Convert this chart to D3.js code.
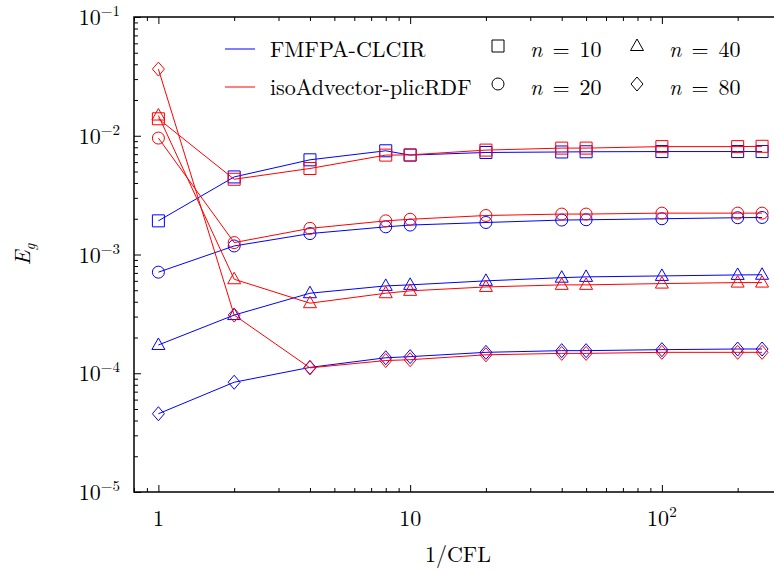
<!DOCTYPE html>
<html>
<head>
<meta charset="utf-8">
<script src="https://cdn.jsdelivr.net/npm/d3@7"></script>
<style>
  body { margin: 0; background: #fff; }
  svg { display: block; font-family: "Latin Modern Roman", "CMU Serif", "Liberation Serif", "DejaVu Serif", serif; }
</style>
</head>
<body>
<svg id="chart"></svg>
<script>
// 1/CFL values
var cflInv = [1, 2, 4, 8, 10, 20, 40, 50, 100, 200, 250];

// FMFPA-CLCIR
var fmfpaN10 = [1.92e-3, 4.5e-3, 6.27e-3, 7.47e-3, 6.87e-3, 7.23e-3, 7.3e-3, 7.33e-3, 7.36e-3, 7.36e-3, 7.36e-3];
var fmfpaN20 = [7.1e-4, 1.18e-3, 1.5e-3, 1.71e-3, 1.77e-3, 1.86e-3, 1.95e-3, 1.96e-3, 2.0e-3, 2.04e-3, 2.05e-3];
var fmfpaN40 = [1.73e-4, 3.09e-4, 4.72e-4, 5.44e-4, 5.55e-4, 6.0e-4, 6.38e-4, 6.48e-4, 6.6e-4, 6.73e-4, 6.75e-4];
var fmfpaN80 = [4.56e-5, 8.4e-5, 1.12e-4, 1.35e-4, 1.38e-4, 1.5e-4, 1.55e-4, 1.55e-4, 1.58e-4, 1.6e-4, 1.6e-4];

// isoAdvector-plicRDF
var isoN10 = [1.39e-2, 4.3e-3, 5.3e-3, 6.87e-3, 6.9e-3, 7.57e-3, 7.87e-3, 7.87e-3, 8.1e-3, 8.1e-3, 8.15e-3];
var isoN20 = [9.56e-3, 1.26e-3, 1.66e-3, 1.92e-3, 1.98e-3, 2.13e-3, 2.19e-3, 2.19e-3, 2.23e-3, 2.23e-3, 2.23e-3];
var isoN40 = [1.48e-2, 6.19e-4, 3.89e-4, 4.72e-4, 4.94e-4, 5.33e-4, 5.55e-4, 5.55e-4, 5.69e-4, 5.8e-4, 5.8e-4];
var isoN80 = [3.64e-2, 3.09e-4, 1.11e-4, 1.28e-4, 1.3e-4, 1.43e-4, 1.47e-4, 1.47e-4, 1.5e-4, 1.5e-4, 1.5e-4];

var xMajor = [1, 10, 100];
var xMajorLabels = [["1", ""], ["10", ""], ["10", "2"]];
var yMajor = [1e-5, 1e-4, 1e-3, 1e-2, 1e-1];
var yMajorLabels = [["10", "\u22125"], ["10", "\u22124"], ["10", "\u22123"], ["10", "\u22122"], ["10", "\u22121"]];

var methods = ["FMFPA-CLCIR", "isoAdvector-plicRDF"];
var methodColors = ["#0000ff", "#ff0000"];
var nLabels = ["10", "20", "40", "80"];
var markerKinds = ["square", "circle", "triangle", "diamond"];

var series = [
  { method: 0, n: 0, values: fmfpaN10 }, { method: 0, n: 1, values: fmfpaN20 },
  { method: 0, n: 2, values: fmfpaN40 }, { method: 0, n: 3, values: fmfpaN80 },
  { method: 1, n: 0, values: isoN10 }, { method: 1, n: 1, values: isoN20 },
  { method: 1, n: 2, values: isoN40 }, { method: 1, n: 3, values: isoN80 }
];

var width = 774, height = 571;
var plotL = 134, plotR = 782, plotT = 17, plotB = 492;

var svg = d3.select('#chart').attr('width', width).attr('height', height);

var x = d3.scaleLog().domain([0.8, 300]).range([plotL, plotR]);
var y = d3.scaleLog().domain([1e-5, 1e-1]).range([plotB, plotT]);

function minors(lo, hi) {
  var out = [];
  for (var e = Math.floor(Math.log10(lo)); e <= Math.ceil(Math.log10(hi)); e++) {
    for (var k = 2; k <= 9; k++) {
      var v = k * Math.pow(10, e);
      if (v >= lo && v <= hi) out.push(v);
    }
  }
  return out;
}
var xMinor = minors(0.8, 300);
var yMinor = minors(1e-5, 1e-1);

var MAJ = 7, MIN = 4;

function styleAxis(g) {
  g.select('.domain').remove();
  g.selectAll('line').attr('stroke', '#000').attr('stroke-width', 1);
}

// ticks, inward on all four sides
svg.append('g').attr('transform', 'translate(0,' + plotB + ')')
  .call(d3.axisBottom(x).tickValues(xMajor).tickSize(-MAJ).tickFormat('')).call(styleAxis);
svg.append('g').attr('transform', 'translate(0,' + plotB + ')')
  .call(d3.axisBottom(x).tickValues(xMinor).tickSize(-MIN).tickFormat('')).call(styleAxis);
svg.append('g').attr('transform', 'translate(0,' + plotT + ')')
  .call(d3.axisTop(x).tickValues(xMajor).tickSize(-MAJ).tickFormat('')).call(styleAxis);
svg.append('g').attr('transform', 'translate(0,' + plotT + ')')
  .call(d3.axisTop(x).tickValues(xMinor).tickSize(-MIN).tickFormat('')).call(styleAxis);
svg.append('g').attr('transform', 'translate(' + plotL + ',0)')
  .call(d3.axisLeft(y).tickValues(yMajor).tickSize(-MAJ).tickFormat('')).call(styleAxis);
svg.append('g').attr('transform', 'translate(' + plotL + ',0)')
  .call(d3.axisLeft(y).tickValues(yMinor).tickSize(-MIN).tickFormat('')).call(styleAxis);
svg.append('g').attr('transform', 'translate(' + plotR + ',0)')
  .call(d3.axisRight(y).tickValues(yMajor).tickSize(-MAJ).tickFormat('')).call(styleAxis);
svg.append('g').attr('transform', 'translate(' + plotR + ',0)')
  .call(d3.axisRight(y).tickValues(yMinor).tickSize(-MIN).tickFormat('')).call(styleAxis);

// frame
svg.append('rect')
  .attr('x', plotL).attr('y', plotT)
  .attr('width', plotR - plotL).attr('height', plotB - plotT)
  .attr('fill', 'none').attr('stroke', '#000').attr('stroke-width', 1.5);

// tick labels
var xl = svg.append('g').attr('font-size', 22).attr('fill', '#000');
xMajor.forEach(function(v, i) {
  var t = xl.append('text').attr('x', x(v)).attr('y', plotB + 34).attr('text-anchor', 'middle');
  t.append('tspan').text(xMajorLabels[i][0]);
  if (xMajorLabels[i][1]) t.append('tspan').attr('dy', -9).attr('font-size', 15).text(xMajorLabels[i][1]);
});

var yl = svg.append('g').attr('font-size', 22).attr('fill', '#000');
yMajor.forEach(function(v, i) {
  var t = yl.append('text').attr('x', plotL - 14).attr('y', y(v) + 8).attr('text-anchor', 'end');
  t.append('tspan').text(yMajorLabels[i][0]);
  t.append('tspan').attr('dy', -9).attr('font-size', 15).text(yMajorLabels[i][1]);
});

// axis titles
svg.append('text')
  .attr('x', (plotL + plotR) / 2).attr('y', 562)
  .attr('text-anchor', 'middle').attr('font-size', 22)
  .text('1/CFL');

var yt = svg.append('text')
  .attr('transform', 'translate(30,' + ((plotT + plotB) / 2) + ') rotate(-90)')
  .attr('text-anchor', 'middle').attr('font-size', 22).attr('font-style', 'italic');
yt.append('tspan').text('E');
yt.append('tspan').attr('dy', 5).attr('font-size', 15).text('g');

// markers
function markerPath(kind) {
  if (kind === 'square') return 'M-6,-6H6V6H-6Z';
  if (kind === 'circle') return 'M6,0A6,6 0 1,1 -6,0A6,6 0 1,1 6,0Z';
  if (kind === 'triangle') return 'M0,-7L6.5,4.5H-6.5Z';
  return 'M0,-7L6,0L0,7L-6,0Z';
}

var line = d3.line()
  .x(function(d) { return x(d[0]); })
  .y(function(d) { return y(d[1]); });

var plot = svg.append('g');
series.forEach(function(s) {
  var pts = cflInv.map(function(c, i) { return [c, s.values[i]]; });
  var col = methodColors[s.method];
  plot.append('path').datum(pts)
    .attr('d', line).attr('fill', 'none')
    .attr('stroke', col).attr('stroke-width', 1);
  plot.selectAll(null).data(pts).enter().append('path')
    .attr('transform', function(d) { return 'translate(' + x(d[0]) + ',' + y(d[1]) + ')'; })
    .attr('d', markerPath(markerKinds[s.n]))
    .attr('fill', 'none').attr('stroke', col).attr('stroke-width', 1);
});

// legend
var leg = svg.append('g').attr('font-size', 22);
methods.forEach(function(m, i) {
  var ly = 49 + i * 38;
  leg.append('line').attr('x1', 225).attr('x2', 255).attr('y1', ly).attr('y2', ly)
    .attr('stroke', methodColors[i]).attr('stroke-width', 1);
  leg.append('text').attr('x', 270).attr('y', ly + 8).text(m);
});
markerKinds.forEach(function(k, i) {
  var col = Math.floor(i / 2), row = i % 2;
  var mx = 498 + col * 139, my = 49 + row * 38;
  leg.append('path').attr('transform', 'translate(' + mx + ',' + (my - 3) + ')')
    .attr('d', markerPath(k)).attr('fill', 'none').attr('stroke', '#000').attr('stroke-width', 1);
  var t = leg.append('text').attr('x', mx + 32).attr('y', my + 8);
  t.append('tspan').attr('font-style', 'italic').text('n');
  t.append('tspan').attr('dx', 10).text('=');
  t.append('tspan').attr('dx', 10).text(nLabels[i]);
});
</script>
</body>
</html>
